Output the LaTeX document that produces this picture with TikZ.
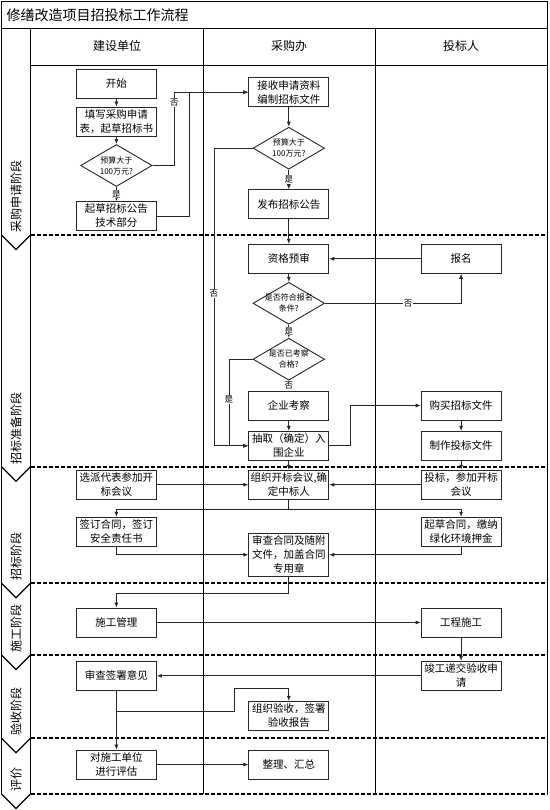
\documentclass[tikz,border=0pt]{standalone}
\usepackage{fontspec}
\setmainfont{Noto Sans CJK SC}
\usetikzlibrary{shapes.geometric,arrows.meta}
\begin{document}
\begin{tikzpicture}[x=1pt,y=-1pt,
	box/.style={draw=black!85,line width=.9pt,minimum width=80pt,minimum height=29pt,text width=78pt,inner xsep=1pt,inner ysep=1pt,align=center,font=\fontsize{10.5}{14}\selectfont},
	dia/.style={draw=black!85,line width=.9pt,diamond,minimum width=71.5pt,minimum height=42pt,inner sep=0pt},
	dtxt/.style={align=center,inner sep=0pt,font=\fontsize{8}{11}\selectfont},
	lbl/.style={fill=white,inner sep=.5pt,font=\fontsize{8.5}{9}\selectfont},
	arr/.style={draw=black!85,line width=.7pt,-{Latex[length=5pt,width=4pt]}},
	hd/.style={font=\fontsize{12}{12}\selectfont},
	phaseline/.style={line width=1.8pt,dash pattern=on 4pt off 2pt},
	phasetxt/.style={rotate=90,anchor=west,inner sep=0pt,font=\fontsize{12}{12}\selectfont}]
\useasboundingbox (0,0) rectangle (549,810);
\draw[line width=.9pt] (1.5,794)--(1.5,1.5)--(547.5,1.5)--(547.5,794);
\draw[line width=.9pt] (1.5,28)--(547.5,28);
\draw[line width=.9pt] (30.5,28)--(30.5,794);
\draw[line width=.9pt] (30.5,65)--(547.5,65);
\draw[line width=.9pt] (203,28)--(203,794);
\draw[line width=.9pt] (375.4,28)--(375.4,794);
\draw[phaseline] (30.5,235)--(547.5,235);
\draw[phaseline] (30.5,466.7)--(547.5,466.7);
\draw[phaseline] (30.5,583.3)--(547.5,583.3);
\draw[phaseline] (30.5,655)--(547.5,655);
\draw[phaseline] (30.5,738.3)--(547.5,738.3);
\draw[phaseline] (30.5,794)--(547.5,794);
\draw[line width=1.2pt] (1.5,235)--(16,249.5)--(30.5,235);
\draw[line width=1.2pt] (1.5,466.7)--(16,481.2)--(30.5,466.7);
\draw[line width=1.2pt] (1.5,583.3)--(16,597.8)--(30.5,583.3);
\draw[line width=1.2pt] (1.5,655)--(16,669.5)--(30.5,655);
\draw[line width=1.2pt] (1.5,738.3)--(16,752.8)--(30.5,738.3);
\draw[line width=1.2pt] (1.5,794)--(16,808.5)--(30.5,794);
\node[anchor=west,font=\fontsize{14}{14}\selectfont] (title) at (3,15) {修缮改造项目招投标工作流程};
\node[hd] (h1) at (117,46) {建设单位};
\node[hd] (h2) at (289,46) {采购办};
\node[hd] (h3) at (461,46) {投标人};
\node[phasetxt] (p1) at (16,232.5) {采购申请阶段};
\node[phasetxt] (p2) at (16,464.5) {招标准备阶段};
\node[phasetxt] (p3) at (16,580.5) {招标阶段};
\node[phasetxt] (p4) at (16,653) {施工阶段};
\node[phasetxt] (p5) at (16,735.5) {验收阶段};
\node[phasetxt] (p6) at (16,792) {评价};
\node[box] (start) at (116.4,83.8) {开始};
\node[box] (fill) at (116.4,121.5) {填写采购申请\\表，起草招标书};
\node[dia] (q1) at (116.4,165.5) {};
\node[dtxt] (q1t) at (q1) {预算大于\\100万元?};
\node[box] (draft) at (116.4,216) {起草招标公告\\技术部分};
\node[box] (recv) at (288.8,92.2) {接收申请资料\\编制招标文件};
\node[dia] (q2) at (288.8,148.2) {};
\node[dtxt] (q2t) at (q2) {预算大于\\100万元?};
\node[box] (pub) at (288.8,204.2) {发布招标公告};
\node[box] (prequal) at (288.8,258.8) {资格预审};
\node[box] (signup) at (461.1,258.8) {报名};
\node[dia] (q3) at (288.8,303.3) {};
\node[dtxt] (q3t) at (q3) {是否符合报名\\条件?};
\node[dia] (q4) at (288.8,359.2) {};
\node[dtxt] (q4t) at (q4) {是否已考察\\合格?};
\node[box] (inspect) at (288.8,405.5) {企业考察};
\node[box] (pick) at (288.8,445.8) {抽取（确定）入\\围企业};
\node[box] (buy) at (461.1,405.5) {购买招标文件};
\node[box] (make) at (461.1,445.8) {制作投标文件};
\node[box] (rep) at (116.4,484.7) {选派代表参加开\\标会议};
\node[box] (open) at (288.8,484.7) {组织开标会议,确\\定中标人};
\node[box] (bid) at (461.1,484.7) {投标，参加开标\\会议};
\node[box] (sign) at (116.4,531.7) {签订合同，签订\\安全责任书};
\node[box] (draftc) at (461.1,531.7) {起草合同，缴纳\\绿化环境押金};
\node[box,minimum height=42.7pt] (review) at (288.8,554.7) {审查合同及随附\\文件，加盖合同\\专用章};
\node[box] (mgmt) at (116.4,622.5) {施工管理};
\node[box] (build) at (461.1,622.5) {工程施工};
\node[box] (check) at (116.4,675.8) {审查签署意见};
\node[box] (done) at (461.1,675.8) {竣工递交验收申\\请};
\node[box] (accept) at (288.8,715.8) {组织验收，签署\\验收报告};
\node[box] (eval) at (116.4,764.5) {对施工单位\\进行评估};
\node[box] (sum) at (288.8,764.5) {整理、汇总};
\draw[arr] (start)--(fill);
\draw[arr] (fill)--(q1);
\draw[arr] (q1.east)--++(21.7,0) |- node[lbl,pos=.43] (n1) {否} (recv.west);
\draw[arr] (q1)-- node[lbl] (y1) {是} (draft);
\draw[arr] (draft.east)--++(32.5,0) |- (recv.west);
\draw[arr] (recv)--(q2);
\draw[arr] (q2)-- node[lbl] (y2) {是} (pub);
\draw[arr] (q2.west)--++(-38.7,0) |- node[lbl,pos=.244] (n2) {否} (pick.west);
\draw[arr] (pub)--(prequal);
\draw[arr] (signup)--(prequal);
\draw[arr] (prequal)--(q3);
\draw[arr] (q3.east) -| node[lbl,pos=.305] (n3) {否} (signup.south);
\draw[arr] (q3)-- node[lbl] (y3) {是} (q4);
\draw[arr] (q4)-- node[lbl] (n4) {否} (inspect);
\draw[arr] (q4.west)--++(-23.7,0) |- node[lbl,pos=.235] (y4) {是} (pick.west);
\draw[arr] (inspect)--(pick);
\draw[arr] (pick.east)--++(21,0) |- (buy.west);
\draw[arr] (buy)--(make);
\draw[arr] (pick)--(open);
\draw[arr] (make)--(bid);
\draw[arr] (rep)--(open);
\draw[arr] (bid)--(open);
\draw[arr] (open.south)--++(0,9.7) -| (sign.north);
\draw[arr] (open.south)--++(0,9.7) -| (draftc.north);
\draw[arr] (sign.south) |- (review.west);
\draw[arr] (draftc.south) |- (review.east);
\draw[arr] (review.south)--++(0,17.3) -| (mgmt.north);
\draw[arr] (mgmt)--(build);
\draw[arr] (build)--(done);
\draw[arr] (done)--(check);
\draw[arr] (check)--(eval);
\draw[arr] (check.south)--++(0,21)--++(118.2,0)--++(0,-23.7) -| (accept.north);
\draw[arr] (eval)--(sum);
\end{tikzpicture}
\end{document}
